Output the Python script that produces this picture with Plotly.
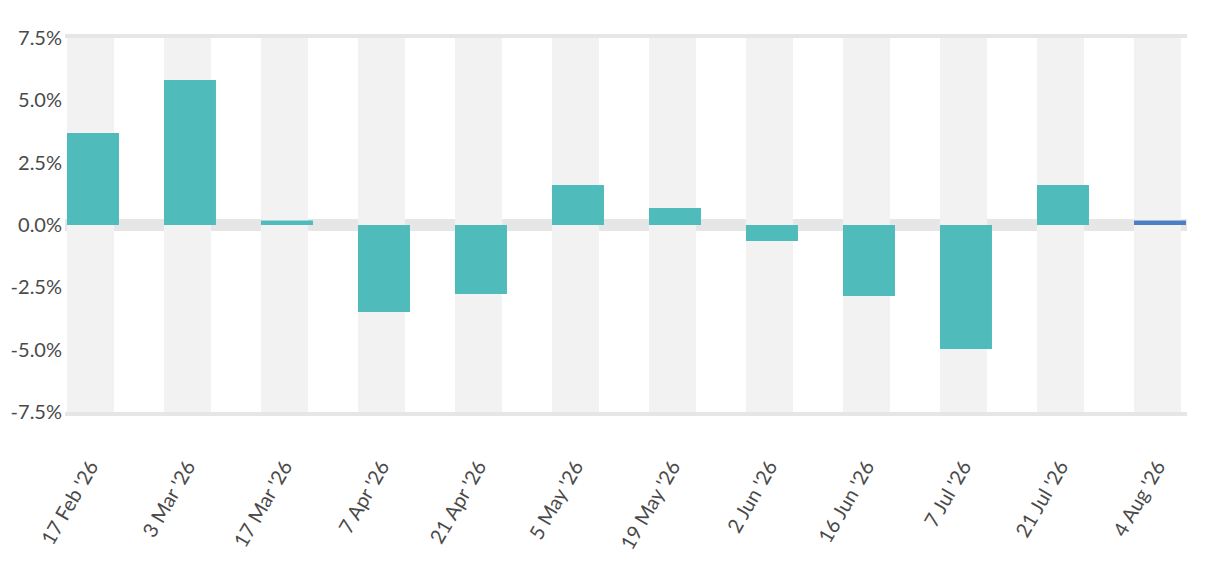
import plotly.graph_objects as go

# period labels and % change per period
dates = ["17 Feb '26", "3 Mar '26", "17 Mar '26", "7 Apr '26", "21 Apr '26", "5 May '26",
         "19 May '26", "2 Jun '26", "16 Jun '26", "7 Jul '26", "21 Jul '26", "4 Aug '26"]
change = [3.69, 5.82, 0.18, -3.49, -2.77, 1.6, 0.68, -0.64, -2.85, -4.97, 1.6, 0.18]
ymin, ymax = -7.5, 7.5
ticks = [-7.5, -5.0, -2.5, 0.0, 2.5, 5.0, 7.5]

teal = "#4fbbbb"
blue = "#4a7fc6"
colors = [teal] * (len(dates) - 1) + [blue]

fig = go.Figure()

# grey column bands behind each period
fig.add_trace(go.Bar(
    x=dates, y=[ymax - ymin] * len(dates), base=[ymin] * len(dates),
    width=0.485, offset=-0.2425, marker_color="#f2f2f2",
    marker_line_width=0, hoverinfo="skip", showlegend=False))

fig.add_trace(go.Bar(
    x=dates, y=change, width=0.536, offset=-0.2425,
    marker_color=colors, marker_line_width=0, showlegend=False,
    hovertemplate="%{x}: %{y:.1f}%<extra></extra>"))

fig.update_layout(
    width=1224, height=576,
    margin=dict(l=57, r=45, t=30, b=172, autoexpand=False),
    barmode="overlay",
    plot_bgcolor="white", paper_bgcolor="white",
    font=dict(family="Lato, 'Open Sans', sans-serif", color="#4a4a4a"),
)

fig.update_xaxes(
    type="category", range=[-0.263, 11.304], automargin=False,
    showgrid=False, zeroline=False,
    showline=True, linecolor="#e6e6e6", linewidth=4, mirror=True,
    ticks="", tickangle=-60, ticklabelstandoff=31,
    tickfont=dict(size=20, color="#4a4a4a"),
)

fig.update_yaxes(
    range=[ymin, ymax], tickvals=ticks, automargin=False,
    ticktext=[f"{t:.1f}%" for t in ticks],
    showgrid=False, showline=False,
    zeroline=True, zerolinecolor="#e6e6e6", zerolinewidth=12,
    tickfont=dict(size=20, color="#4a4a4a"), ticks="", ticklabelstandoff=2,
)

fig.write_html("out.html")
